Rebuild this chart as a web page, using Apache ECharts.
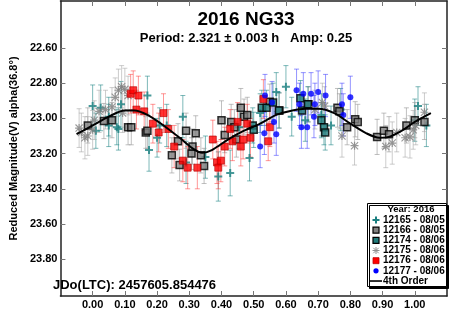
<!DOCTYPE html>
<html><head><meta charset="utf-8">
<script src="https://cdn.jsdelivr.net/npm/echarts@6/dist/echarts.min.js"></script>
<style>html,body{margin:0;padding:0;background:#fff}#c{width:450px;height:310px}</style>
</head><body><div id="c"></div>
<script>
// [phase, reduced magnitude, error]
const s12165 = [
  [0.000,22.93,0.12],[0.010,23.07,0.10],[0.025,22.94,0.13],[0.050,22.99,0.11],[0.050,23.04,0.12],
  [0.075,23.05,0.10],[0.080,23.06,0.12],[0.088,22.92,0.13],[0.170,22.87,0.11],[0.175,23.18,0.12],
  [0.200,23.11,0.11],[0.208,23.04,0.10],[0.230,23.04,0.12],[0.280,22.99,0.12],[0.290,23.25,0.12],
  [0.350,23.22,0.12],[0.390,23.33,0.14],[0.427,23.31,0.13],[0.455,23.05,0.12],[0.487,23.225,0.13],
  [0.520,22.97,0.11],[0.570,22.85,0.11],[0.600,22.82,0.12],[0.618,22.99,0.11],[0.660,23.01,0.12],
  [0.710,22.98,0.12],[0.740,23.04,0.11],[0.770,22.95,0.12],[1.000,23.01,0.12],[1.010,22.93,0.11],
  [1.036,23.04,0.12]
];
const s12166 = [
  [-0.015,23.04,0.10],[0.035,23.015,0.10],[0.060,23.01,0.10],[0.110,23.05,0.10],[0.120,23.05,0.10],
  [0.165,23.08,0.09],[0.170,23.07,0.10],[0.246,23.21,0.10],[0.265,23.13,0.10],[0.270,23.265,0.09],
  [0.290,23.07,0.10],[0.307,23.20,0.09],[0.310,23.16,0.10],[0.320,23.085,0.10],[0.336,23.21,0.10],
  [0.346,23.27,0.10],[0.400,23.01,0.11],[0.410,23.095,0.10],[0.430,23.02,0.10],[0.440,23.05,0.10],
  [0.446,23.12,0.10],[0.460,22.94,0.11],[0.470,22.99,0.10],[0.480,22.98,0.10],[0.550,22.905,0.10],
  [0.580,22.955,0.10],[0.670,22.92,0.10],[0.760,22.94,0.11],[0.766,22.96,0.10],[0.790,23.05,0.10],
  [0.815,23.005,0.10],[0.823,23.02,0.10],[0.883,23.105,0.10],[0.904,23.07,0.10],[0.920,23.09,0.10],
  [0.974,23.04,0.10],[1.000,23.01,0.10],[1.030,23.02,0.10]
];
const s12174 = [
  [0.497,23.04,0.10],[0.500,23.065,0.10],[0.525,22.94,0.10],[0.540,22.94,0.10],[0.560,22.91,0.11],
  [0.578,22.955,0.10],[0.645,22.885,0.10],[0.650,22.955,0.10],[0.668,22.92,0.10],[0.710,23.01,0.10],
  [0.718,23.05,0.10],[0.722,23.08,0.10]
];
const s12175 = [
  [-0.042,23.055,0.11],[-0.035,23.08,0.11],[-0.024,23.11,0.12],[-0.015,23.10,0.11],[0.000,23.065,0.11],
  [0.005,23.01,0.11],[0.020,22.96,0.12],[0.040,22.95,0.11],[0.060,22.935,0.11],[0.070,22.88,0.11],
  [0.080,22.84,0.12],[0.090,22.82,0.12],[0.093,22.97,0.11],[0.100,22.835,0.12],[0.110,22.87,0.11],
  [0.690,22.95,0.11],[0.713,22.91,0.11],[0.720,22.93,0.11],[0.774,23.10,0.12],[0.813,23.155,0.11],
  [0.910,23.16,0.12],[0.930,23.14,0.12],[0.944,23.08,0.11],[0.970,23.11,0.11],[0.985,23.105,0.12],
  [0.995,23.065,0.11],[1.003,23.04,0.11],[1.030,22.965,0.11]
];
const s12176 = [
  [0.118,22.86,0.11],[0.126,22.84,0.11],[0.142,22.87,0.11],[0.136,22.95,0.11],[0.160,22.96,0.11],
  [0.187,23.03,0.11],[0.205,23.08,0.11],[0.220,22.97,0.11],[0.235,23.06,0.11],[0.253,23.16,0.12],
  [0.280,23.24,0.12],[0.295,23.28,0.12],[0.325,23.28,0.12],[0.373,23.12,0.11],[0.386,23.25,0.12],
  [0.390,23.28,0.12],[0.398,23.24,0.12],[0.410,23.16,0.11],[0.427,23.06,0.11],[0.434,23.13,0.11],
  [0.450,23.02,0.11],[0.460,23.16,0.11],[0.467,23.12,0.11],[0.480,23.03,0.11],[0.490,23.11,0.11],
  [0.530,22.89,0.11],[0.545,23.13,0.11],[0.550,23.05,0.11]
];
const s12177 = [
  [0.520,23.16,0.12],[0.533,23.085,0.12],[0.535,22.87,0.12],[0.557,22.91,0.12],[0.563,23.02,0.12],
  [0.570,23.09,0.12],[0.633,22.84,0.12],[0.642,22.92,0.12],[0.648,23.05,0.12],[0.654,22.86,0.12],
  [0.666,23.05,0.12],[0.678,22.86,0.12],[0.687,22.99,0.12],[0.690,22.92,0.12],[0.700,22.85,0.12],
  [0.723,22.87,0.12],[0.774,22.92,0.12],[0.778,22.98,0.12],[0.800,22.88,0.12]
];
const fitPhase = [-0.05,0.00,0.05,0.10,0.13,0.17,0.22,0.27,0.31,0.34,0.37,0.42,0.47,0.52,0.57,0.62,0.66,0.70,0.75,0.80,0.85,0.89,0.92,0.96,1.00,1.05];
const fitMag   = [23.09,23.04,22.99,22.955,22.955,22.98,23.04,23.11,23.17,23.195,23.18,23.12,23.07,23.03,22.98,22.955,22.945,22.945,22.97,23.03,23.085,23.11,23.105,23.07,23.02,22.97];
const xTicks = [0,0.1,0.2,0.3,0.4,0.5,0.6,0.7,0.8,0.9,1.0];
const yTicks = [22.6,22.8,23.0,23.2,23.4,23.6,23.8];
const legendLabels = ['12165 - 08/05','12166 - 08/05','12174 - 08/06','12175 - 08/06','12176 - 08/06','12177 - 08/06','4th Order'];

const FONT = 'Liberation Sans, Arial, sans-serif';
const PLUS = 'path://M3,0H5V3H8V5H5V8H3V5H0V3H3Z';
const AST = 'path://M0,3.4H8V4.6H0Z M3.4,0H4.6V8H3.4Z M0.8,0L8,7.2L7.2,8L0,0.8Z M7.2,0L8,0.8L0.8,8L0,7.2Z';

function errRender(color) {
  return function (params, api) {
    const x = api.value(0), y = api.value(1), e = api.value(2);
    const a = api.coord([x, y - e]), b = api.coord([x, y + e]);
    const hw = 2.5, st = {stroke: color, lineWidth: 1};
    return {type: 'group', children: [
      {type: 'line', shape: {x1: a[0], y1: a[1], x2: b[0], y2: b[1]}, style: st},
      {type: 'line', shape: {x1: a[0]-hw, y1: a[1], x2: a[0]+hw, y2: a[1]}, style: st},
      {type: 'line', shape: {x1: b[0]-hw, y1: b[1], x2: b[0]+hw, y2: b[1]}, style: st}
    ]};
  };
}
function errSeries(name, data, color) {
  return {name: name, type: 'custom', renderItem: errRender(color), data: data,
    encode: {x: 0, y: 1}, z: 1, clip: true, silent: true};
}
function pts(data) { return data.map(d => [d[0], d[1]]); }

// legend built from graphic elements
const LX = 376, LY0 = 220, LDY = 10.17;
function legendIcon(i, y) {
  const Z = 11;
  switch (i) {
    case 0: return {type: 'polygon', z: Z, shape: {points: [[LX-1,y-3.5],[LX+1,y-3.5],[LX+1,y-1],[LX+3.5,y-1],[LX+3.5,y+1],[LX+1,y+1],[LX+1,y+3.5],[LX-1,y+3.5],[LX-1,y+1],[LX-3.5,y+1],[LX-3.5,y-1],[LX-1,y-1]]}, style: {fill: '#1a7f80'}};
    case 1: return {type: 'rect', z: Z, shape: {x: LX-3, y: y-3, width: 6, height: 6}, style: {fill: '#808080', stroke: '#000', lineWidth: 1.2}};
    case 2: return {type: 'rect', z: Z, shape: {x: LX-3, y: y-3, width: 6, height: 6}, style: {fill: '#1f7a7a', stroke: '#000', lineWidth: 1.2}};
    case 3: return {type: 'group', z: Z, children: [
      {type: 'line', z: Z, shape: {x1: LX-3.5, y1: y, x2: LX+3.5, y2: y}, style: {stroke: '#909090', lineWidth: 1}},
      {type: 'line', z: Z, shape: {x1: LX, y1: y-3.5, x2: LX, y2: y+3.5}, style: {stroke: '#909090', lineWidth: 1}},
      {type: 'line', z: Z, shape: {x1: LX-2.7, y1: y-2.7, x2: LX+2.7, y2: y+2.7}, style: {stroke: '#909090', lineWidth: 1}},
      {type: 'line', z: Z, shape: {x1: LX-2.7, y1: y+2.7, x2: LX+2.7, y2: y-2.7}, style: {stroke: '#909090', lineWidth: 1}}]};
    case 4: return {type: 'rect', z: Z, shape: {x: LX-3, y: y-3, width: 6, height: 6}, style: {fill: '#ff0000', stroke: '#c00000', lineWidth: 0.8}};
    case 5: return {type: 'circle', z: Z, shape: {cx: LX, cy: y, r: 2.6}, style: {fill: '#0000ff'}};
    default: return {type: 'line', z: Z, shape: {x1: 369, y1: y, x2: 382, y2: y}, style: {stroke: '#000', lineWidth: 1.6}};
  }
}
const legendGraphics = [];
legendLabels.forEach((lab, i) => {
  const y = LY0 + i * LDY;
  legendGraphics.push(legendIcon(i, y));
  legendGraphics.push({type: 'text', z: 12, x: 383, y: y, style: {text: lab, font: 'bold 10px ' + FONT, fill: '#000', textVerticalAlign: 'middle'}});
});

const axisLineStyle = {color: '#222', width: 1.5};
const tickStyle = {color: '#777', width: 1};

const option = {
  animation: false,
  backgroundColor: '#fff',
  grid: {left: 46, right: 3, top: 1, bottom: 14},
  xAxis: [
    {type: 'value', min: -0.1, max: 1.1, position: 'bottom',
     axisLine: {show: true, onZero: false, lineStyle: axisLineStyle},
     axisTick: {show: true, inside: true, length: 5, customValues: xTicks, lineStyle: tickStyle},
     axisLabel: {customValues: xTicks, formatter: v => v.toFixed(2), fontSize: 11, fontWeight: 'bold', color: '#000', fontFamily: FONT, margin: 3},
     splitLine: {show: false}},
    {type: 'value', min: -0.1, max: 1.1, position: 'top',
     axisLine: {show: true, onZero: false, lineStyle: axisLineStyle},
     axisTick: {show: true, inside: true, length: 5, customValues: xTicks, lineStyle: tickStyle},
     axisLabel: {show: false}, splitLine: {show: false}}
  ],
  yAxis: [
    {type: 'value', inverse: true, min: 22.333, max: 24.009, position: 'left',
     name: 'Reduced Magnitude(V) alpha(36.8°)', nameLocation: 'middle', nameGap: 37,
     nameTextStyle: {fontSize: 11, fontWeight: 'bold', color: '#000', fontFamily: FONT},
     axisLine: {show: true, onZero: false, lineStyle: axisLineStyle},
     axisTick: {show: true, inside: true, length: 5, customValues: yTicks, lineStyle: tickStyle},
     axisLabel: {customValues: yTicks, formatter: v => v.toFixed(2), fontSize: 11, fontWeight: 'bold', color: '#000', fontFamily: FONT, margin: 3},
     splitLine: {show: false}},
    {type: 'value', inverse: true, min: 22.333, max: 24.009, position: 'right',
     axisLine: {show: true, onZero: false, lineStyle: axisLineStyle},
     axisTick: {show: true, inside: true, length: 5, customValues: yTicks, lineStyle: tickStyle},
     axisLabel: {show: false}, splitLine: {show: false}}
  ],
  graphic: [
    {type: 'rect', z: 8, shape: {x: 367.5, y: 203.5, width: 79, height: 83},
     style: {fill: '#fff', stroke: '#000', lineWidth: 1, shadowColor: '#000', shadowOffsetX: 2, shadowOffsetY: 2, shadowBlur: 0}},
    {type: 'text', z: 12, x: 411, y: 209.5, style: {text: 'Year: 2016', font: 'bold 9.5px ' + FONT, fill: '#000', textAlign: 'center', textVerticalAlign: 'middle'}},
    {type: 'text', z: 12, x: 246, y: 10, style: {text: '2016 NG33', font: 'bold 19px ' + FONT, fill: '#000', textAlign: 'center'}},
    {type: 'text', z: 12, x: 246, y: 32, style: {text: 'Period: 2.321 \u00b1 0.003 h   Amp: 0.25', font: 'bold 13px ' + FONT, fill: '#000', textAlign: 'center'}},
    {type: 'text', z: 12, x: 53, y: 279, style: {text: 'JDo(LTC): 2457605.854476', font: 'bold 13px ' + FONT, fill: '#000'}}
  ].concat(legendGraphics),
  series: [
    errSeries('e12165', s12165, 'rgba(20,128,128,0.55)'),
    errSeries('e12166', s12166, 'rgba(150,150,150,0.6)'),
    errSeries('e12174', s12174, 'rgba(20,128,128,0.55)'),
    errSeries('e12175', s12175, 'rgba(170,170,170,0.6)'),
    errSeries('e12176', s12176, 'rgba(255,50,50,0.5)'),
    errSeries('e12177', s12177, 'rgba(60,60,255,0.55)'),
    {name: legendLabels[0], type: 'scatter', data: pts(s12165), symbol: PLUS, symbolSize: 8, z: 2,
     itemStyle: {color: '#1a7f80'}},
    {name: legendLabels[1], type: 'scatter', data: pts(s12166), symbol: 'rect', symbolSize: 7, z: 2,
     itemStyle: {color: '#808080', borderColor: '#000', borderWidth: 1.5}},
    {name: legendLabels[2], type: 'scatter', data: pts(s12174), symbol: 'rect', symbolSize: 7, z: 2,
     itemStyle: {color: '#1f7a7a', borderColor: '#000', borderWidth: 1.5}},
    {name: legendLabels[3], type: 'scatter', data: pts(s12175), symbol: AST, symbolSize: 8, z: 2,
     itemStyle: {color: '#808080'}},
    {name: legendLabels[4], type: 'scatter', data: pts(s12176), symbol: 'rect', symbolSize: 7, z: 2,
     itemStyle: {color: '#ff0000', borderColor: '#b00000', borderWidth: 0.8}},
    {name: legendLabels[5], type: 'scatter', data: pts(s12177), symbol: 'circle', symbolSize: 6, z: 2,
     itemStyle: {color: '#0000ff'}},
    {name: legendLabels[6], type: 'line', data: fitPhase.map((p, i) => [p, fitMag[i]]), smooth: 0.3,
     symbol: 'none', z: 3, lineStyle: {color: '#000', width: 2}, itemStyle: {color: '#000'}}
  ]
};
const chart = echarts.init(document.getElementById('c'), null, {renderer: 'canvas'});
chart.setOption(option);
</script>
</body></html>
